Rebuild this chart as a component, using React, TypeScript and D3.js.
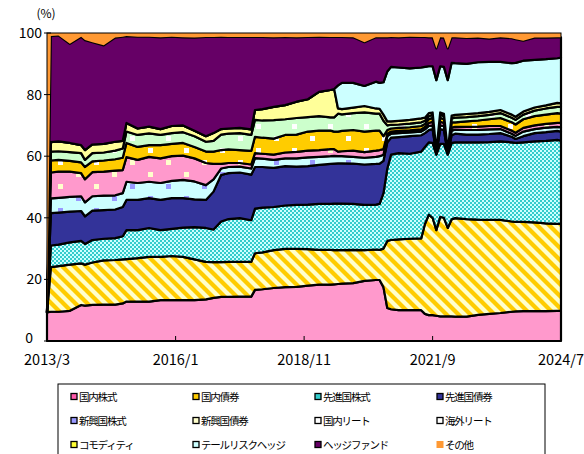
import React from "react";
import * as d3 from "d3";

// month points (monthly where the picture moves fast)
const dates = [
  "2013/3","2013/4","2013/6","2013/9","2013/12","2014/1","2014/3","2014/6","2014/9","2014/11",
  "2014/12","2015/3","2015/6","2015/9","2015/12","2016/3","2016/6","2016/9","2016/11","2017/1",
  "2017/3","2017/6","2017/9","2017/10","2017/12","2018/3","2018/6","2018/9","2018/12","2019/3",
  "2019/6","2019/7","2019/8","2019/9","2019/12","2020/3","2020/6","2020/7","2020/8","2020/9",
  "2020/10","2020/12","2021/3","2021/6","2021/7","2021/8","2021/9","2021/10","2021/11","2021/12",
  "2022/1","2022/2","2022/3","2022/6","2022/9","2022/12","2023/3","2023/6","2023/7","2023/9",
  "2023/12","2024/3","2024/6","2024/7",
];

const categories = [
  "国内株式","国内債券","先進国株式","先進国債券",
  "新興国株式","新興国債券","国内リート","海外リート",
  "コモディティ","テールリスクヘッジ","ヘッジファンド","その他",
];

const domesticStock = [
  9.3,9.5,9.5,9.8,11.7,11.5,11.7,11.8,11.8,12.2,
  12.8,12.8,12.8,13.3,13.3,13.3,13.3,13.5,14.0,14.3,
  14.3,14.4,14.4,16.6,16.8,17.2,17.5,17.6,18.0,18.3,
  18.3,18.4,18.5,18.6,18.8,19.5,19.8,19.8,17.5,10.7,
  10.3,10.0,10.0,10.0,8.8,8.4,8.4,8.2,8.0,8.0,
  8.0,8.0,7.9,7.9,8.5,8.8,9.1,9.5,9.6,9.7,
  9.7,9.7,9.8,9.8,
];
const domesticBond = [
  0,14.5,14.8,15.0,13.5,13.3,13.8,14.4,14.5,14.3,
  13.8,14.1,14.5,14.0,14.3,14.0,13.2,12.2,11.6,11.3,
  11.4,11.3,11.3,11.9,12.0,12.3,12.4,12.3,11.8,11.3,
  11.3,11.1,11.0,10.9,10.8,10.0,9.9,9.8,12.5,21.8,
  22.5,23.0,23.2,23.3,29.2,32.6,31.6,27.8,32.3,32.0,
  28.7,31.5,32.0,31.7,30.9,30.5,30.2,29.3,29.1,29.0,
  28.8,28.5,28.2,28.2,
];
const devStock = [
  0,7.0,7.0,7.2,7.3,6.7,7.3,7.0,7.1,7.5,
  9.4,9.1,9.4,8.7,8.8,9.5,10.5,11.0,10.6,13.2,
  13.9,14.2,13.5,14.5,14.5,14.0,14.1,14.3,14.5,14.9,
  14.9,15.1,15.1,15.1,14.9,14.7,14.6,14.9,18.0,23.5,
  27.7,28.0,27.6,28.2,25.0,23.5,24.3,24.5,23.7,24.0,
  23.8,24.8,24.6,24.9,25.1,25.3,25.5,25.7,25.6,25.8,
  26.3,26.8,27.3,27.0,
];
const devBond = [
  0,10.5,10.4,10.0,9.7,9.0,9.5,9.3,9.3,9.5,
  9.8,9.8,9.7,9.8,10.0,9.6,9.0,9.1,12.3,15.1,
  14.9,14.8,14.8,13.5,13.2,12.7,12.8,12.4,12.5,12.7,
  13.0,13.0,13.1,13.1,13.1,13.1,13.2,13.1,10.5,8.5,
  5.5,5.2,5.7,5.3,4.5,4.0,4.5,0.3,4.8,4.5,
  0.3,2.5,2.8,2.5,2.5,2.6,2.7,1.8,1.3,2.0,
  2.7,2.8,2.9,3.0,
];
const emStock = [
  0,4.8,4.8,4.8,4.8,4.5,4.7,4.7,4.6,4.5,
  5.9,5.5,5.3,5.5,5.6,5.9,5.8,4.8,4.0,2.1,
  2.0,1.9,2.0,2.9,2.7,2.6,2.5,2.7,2.8,2.6,
  2.5,2.5,2.3,2.3,2.2,2.2,2.3,2.4,2.0,2.0,
  1.3,1.3,1.2,1.2,1.2,1.3,1.2,0.2,1.2,1.3,
  0.2,1.5,1.3,1.5,1.5,1.5,1.3,1.0,1.0,1.5,
  1.3,1.5,1.3,1.4,
];
const emBond = [
  0,8.4,8.5,8.2,7.5,7.5,7.8,7.8,8.0,7.5,
  8.0,7.5,8.1,8.0,8.0,7.9,7.5,7.2,5.0,1.5,
  1.3,1.2,1.3,1.6,1.6,1.7,1.9,2.1,2.2,2.2,
  2.3,2.2,1.5,1.6,2.0,1.8,2.0,2.0,1.8,0.8,
  0.7,0.7,0.7,0.7,0.8,1.0,1.2,0.2,1.2,1.0,
  0.2,1.0,0.9,1.0,1.1,1.1,1.0,1.0,1.0,1.2,
  1.2,1.2,1.3,1.4,
];
const jReit = [
  0,3.9,3.8,3.5,3.5,4.0,3.5,3.6,3.7,4.0,
  4.6,4.2,3.8,4.3,4.0,4.1,3.7,3.7,4.0,4.5,
  4.4,4.2,4.4,5.3,5.2,5.2,5.7,5.6,6.2,6.3,
  6.0,5.7,6.5,6.6,6.7,6.7,6.5,6.3,4.2,1.2,
  1.0,1.0,1.0,1.1,1.0,1.2,1.3,0.2,1.3,1.2,
  0.2,1.7,1.5,1.8,2.0,2.2,2.6,2.7,2.7,2.8,
  3.0,3.0,3.2,3.0,
];
const fReit = [
  0,2.9,2.8,2.8,3.0,2.3,2.7,2.6,2.8,3.0,
  3.7,3.9,3.8,3.3,3.5,3.5,3.5,3.2,3.5,5.0,
  5.1,5.5,5.2,5.5,5.6,6.0,5.1,5.4,4.7,4.7,
  4.3,4.6,5.8,5.4,5.5,6.2,5.5,5.5,5.0,1.5,
  1.2,1.1,1.2,1.2,1.0,1.0,1.0,0.2,1.0,1.0,
  0.2,1.3,1.5,1.4,1.4,1.4,1.6,1.5,1.5,1.5,
  1.8,2.0,2.0,2.2,
];
const commodity = [
  0,3.1,3.2,3.0,2.6,3.2,2.8,2.8,2.9,2.5,
  2.8,2.1,2.2,1.9,2.3,2.2,1.8,1.8,2.5,1.8,
  1.7,1.7,1.8,3.2,3.7,4.3,4.6,5.3,5.8,7.9,
  8.9,9.2,1.7,1.7,1.8,2.1,1.7,1.6,2.0,1.3,
  1.1,1.2,1.2,1.3,1.0,1.0,0.7,0.2,0.7,0.8,
  0.2,0.9,0.9,1.0,1.0,1.0,1.0,1.0,1.0,1.0,
  1.0,1.0,1.3,1.2,
];
const tailHedge = [
  0,0,0,0,0,0,0,0,0,0,
  0,0,0,0,0,0,0,0,0,0,
  0,0,0,0,0,0,0,0,0,0,
  0,0,7.5,8.5,8.0,6.5,8.7,8.4,10.5,16.2,
  17.7,17.3,16.7,16.5,16.5,15.2,15.0,22.9,15.0,15.2,
  22.9,17.1,16.8,16.3,16.5,16.2,15.6,16.7,17.5,16.5,
  15.5,15.0,14.5,14.8,
];
const hedgeFund = [
  0,34.4,34.4,32.2,35.2,35.7,33.2,32.0,33.8,33.8,
  28.2,29.8,29.2,29.8,29.0,28.6,30.2,32.2,31.2,30.0,
  29.7,29.5,30.0,23.7,23.4,22.6,22.1,20.9,20.2,17.9,
  17.2,16.9,15.7,14.9,14.8,14.2,14.4,14.8,14.6,11.1,
  9.7,9.8,10.3,9.9,9.7,9.4,9.4,10.3,9.4,9.5,
  10.3,8.3,8.4,8.4,8.0,7.6,8.0,8.1,7.7,6.5,
  7.2,7.0,6.8,6.6,
];
const others = [
  90.7,1.0,0.8,3.5,1.2,2.3,3.0,4.0,1.5,1.2,
  1.0,1.2,1.2,1.4,1.2,1.4,1.5,1.3,1.3,1.2,
  1.3,1.3,1.3,1.3,1.3,1.4,1.3,1.4,1.3,1.2,
  1.3,1.3,1.3,1.3,1.4,3.0,1.4,1.4,1.4,1.4,
  1.3,1.4,1.2,1.3,1.3,1.4,1.4,5.0,1.4,1.5,
  5.0,1.4,1.4,1.6,1.5,1.8,1.4,1.7,2.0,2.5,
  1.5,1.5,1.4,1.4,
];

const seriesValues = [
  domesticStock, domesticBond, devStock, devBond, emStock, emBond,
  jReit, fReit, commodity, tailHedge, hedgeFund, others,
];

const xTickLabels = ["2013/3", "2016/1", "2018/11", "2021/9", "2024/7"];

const fills = [
  "#FF99CC", "url(#pStripe)", "url(#pCheck)", "#333399", "url(#pEmEq)", "url(#pEmBd)",
  "url(#pJReit)", "url(#pFReit)", "#FFFF99", "#CCFFFF", "#660066", "#FF9933",
];
const legendColors = [
  "#FF5AAA", "#FFCC00", "#33CCCC", "#333399", "#9999FF", "#FFFFCC",
  "#FFFFFF", "#FFFFFF", "#FFFF33", "#CCFFFF", "#660066", "#FF9933",
];

const font = "'Noto Sans CJK JP', sans-serif";
const parse = d3.timeParse("%Y/%m");

const dotPattern = (id: string, bg: string, dot: string) => (
  <pattern id={id} width={36} height={24} patternUnits="userSpaceOnUse">
    <rect width={36} height={24} fill={bg} />
    <rect x={4} y={4} width={5} height={5} fill={dot} />
    <rect x={22} y={16} width={5} height={5} fill={dot} />
  </pattern>
);

export default function App() {
  const x = d3.scaleTime()
    .domain([parse("2013/3") as Date, parse("2024/7") as Date])
    .range([47, 561]);
  const y = d3.scaleLinear().domain([0, 100]).range([341, 33]);

  const rows = dates.map((d, i) => {
    const r: any = { date: parse(d) };
    categories.forEach((c, k) => { r[c] = seriesValues[k][i]; });
    return r;
  });
  const layers = d3.stack<any>().keys(categories)(rows);
  const area = d3.area<any>()
    .x(d => x(d.data.date))
    .y0(d => y(d[0]))
    .y1(d => y(d[1]));

  return (
    <svg width={584} height={454} style={{ position: "absolute", left: 0, top: 0, background: "#fff" }}>
      <defs>
        <pattern id="pStripe" width={12} height={12} patternUnits="userSpaceOnUse">
          <rect width={12} height={12} fill="#FFFFCC" />
          <path d="M0,0L3,0L12,9L12,12L9,12L0,3Z M9,0L12,0L12,3Z M0,9L0,12L3,12Z" fill="#FFCC00" />
        </pattern>
        <pattern id="pCheck" width={4} height={4} patternUnits="userSpaceOnUse">
          <rect width={4} height={4} fill="#CCFFFF" />
          <rect width={2} height={2} fill="#33CCCC" />
          <rect x={2} y={2} width={2} height={2} fill="#33CCCC" />
        </pattern>
        {dotPattern("pEmEq", "#CCFFFF", "#9999FF")}
        {dotPattern("pEmBd", "#FF99CC", "#FFFFCC")}
        {dotPattern("pJReit", "#FFCC00", "#FFFFFF")}
        {dotPattern("pFReit", "#CCFFCC", "#FFFFFF")}
      </defs>

      {layers.map((layer, i) => (
        <path key={categories[i]} d={area(layer) || ""} fill={fills[i]}
          stroke={i < 11 ? "#000" : "none"} strokeWidth={2.2} strokeLinejoin="round" />
      ))}

      <rect x={47} y={33} width={514} height={308} fill="none" stroke="#000" strokeWidth={1} />
      <line x1={47} x2={561} y1={341} y2={341} stroke="#000" strokeWidth={1.5} />

      {y.ticks(5).map(t => (
        <g key={t}>
          <line x1={44} x2={51} y1={y(t)} y2={y(t)} stroke="#000" />
          <text x={t === 0 ? 33 : 42} y={t === 0 ? y(t) - 3 : y(t)} dy="0.36em" textAnchor="end"
            fontSize={14} fontFamily={font}>{t}</text>
        </g>
      ))}
      <text x={46} y={18} textAnchor="middle" fontSize={12} fontFamily={font}>(%)</text>

      {xTickLabels.map(l => {
        const px = x(parse(l) as Date);
        return (
          <g key={l}>
            <line x1={px} x2={px} y1={341} y2={336} stroke="#000" />
            <text x={px} y={365} textAnchor="middle" fontSize={14.5} fontFamily={font}>{l}</text>
          </g>
        );
      })}

      <rect x={58} y={384} width={487} height={80} fill="#fff" stroke="#000" strokeWidth={1} />
      {categories.map((c, i) => {
        const lx = 71 + (i % 4) * 122;
        const ly = 397 + Math.floor(i / 4) * 24;
        return (
          <g key={c}>
            {i < 11
              ? <rect x={lx} y={ly - 3.5} width={6} height={6} fill={legendColors[i]} stroke="#000" strokeWidth={1.3} />
              : <rect x={lx - 0.5} y={ly - 4} width={7} height={7} fill={legendColors[i]} />}
            <text x={lx + 8} y={ly} dy="0.36em" fontSize={10.5} letterSpacing={-1.2} fontFamily={font}>{c}</text>
          </g>
        );
      })}
    </svg>
  );
}
